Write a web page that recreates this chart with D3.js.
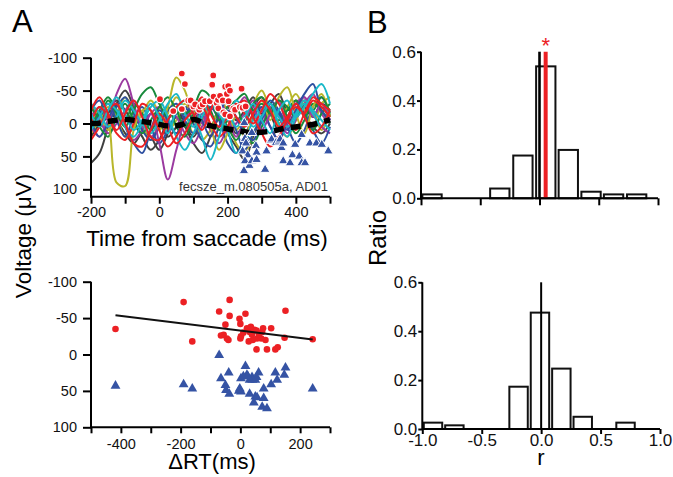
<!DOCTYPE html>
<html>
<head>
<meta charset="utf-8">
<script src="https://cdn.jsdelivr.net/npm/d3@7"></script>
<style>
  body { margin: 0; background: #fff; }
  svg { font-family: "Liberation Sans", Arial, sans-serif; }
</style>
</head>
<body>
<div class="figure"></div>
<script>
// ---- panel A (top): single trials, time axis in ms ----
const times = [-200,-175,-150,-125,-100,-75,-50,-25,0,25,50,75,100,125,150,175,200,225,250,275,300,325,350,375,400,425,450,475,500];

const traceColors = ["#2d4fa0","#188a3b","#ec2024","#1ab8c8","#9b3aa0","#b8b62a","#404040"];

const traceB1 = [-20,-35,-10,-30,5,30,45,10,-20,-5,15,-10,-30,-5,20,-15,-35,-10,15,25,-5,-30,-15,10,-20,-45,-60,-20,-5];
const traceB2 = [10,-15,-30,-5,20,-10,-25,5,30,10,-15,-25,0,25,35,5,-20,10,40,15,-10,-35,-20,5,30,10,-25,-40,-10];
const traceB3 = [-5,20,0,-25,-40,-15,10,25,5,-20,-30,-5,15,-10,-25,-5,30,45,20,-10,-25,5,25,-5,-30,-15,10,30,5];
const traceG1 = [-25,-10,-35,-15,5,-20,-45,-55,-30,-10,-20,-15,-25,-50,-40,-5,-25,-35,-45,-20,-30,-15,-35,-25,-10,-30,-20,-40,-15];
const traceG2 = [5,-20,-40,-20,-5,-30,-15,10,-10,-25,5,20,-5,-20,-35,-15,5,25,0,-30,-40,-15,-5,-20,-35,-10,10,-15,-30];
const traceG3 = [-15,5,20,-10,-30,-5,15,-5,-25,-40,-20,5,-15,-35,-20,10,-5,-25,10,30,5,-20,-35,-10,15,-5,-30,-20,0];
const traceR1 = [-20,-40,-15,10,-15,-35,-10,20,25,-5,-25,-35,-15,10,-20,-45,-30,-10,5,-15,-35,-20,5,-10,-30,-15,-35,-25,-10];
const traceR2 = [25,5,-20,-30,0,30,35,10,-15,5,30,15,-10,-25,0,20,5,-25,-35,-10,15,35,20,-5,-25,-10,15,5,-20];
const traceR3 = [0,-25,-10,15,25,0,-30,-20,10,35,20,-5,-20,-40,-15,5,-10,-30,-15,0,-20,-45,-30,-5,10,-15,-40,-30,-20];
const traceC1 = [-15,5,-20,-40,-15,10,-5,-30,-10,15,-20,-35,-15,20,55,20,-15,5,-10,-30,-5,15,-20,-35,-10,-25,-45,-60,-30];
const traceC2 = [10,-10,-30,-20,5,20,0,-25,-35,-10,20,40,15,-10,-30,-15,10,45,30,-5,-20,-30,-10,5,-15,-35,-20,-5,10];
const traceC3 = [-30,-15,5,-10,-35,-20,0,15,-5,-30,-45,-15,5,-20,-40,-25,-5,-35,-20,5,-10,-30,0,20,-10,-30,-15,5,-20];
const traceP1 = [-10,-25,-5,-45,-68,-30,5,-15,30,85,40,-5,-25,0,-20,-35,-10,20,-5,-25,10,-15,-35,5,-20,-40,-10,-30,-5];
const traceP2 = [5,20,-5,-20,0,25,10,-15,-25,0,15,-10,-30,-15,10,30,5,-20,-40,-15,0,-25,-10,15,-5,-30,-45,-15,0];
const traceP3 = [-25,-5,15,0,-20,-35,-10,20,5,-20,-10,15,30,5,-25,-10,15,0,-15,-35,-20,5,25,0,-30,-40,-15,5,15];
const traceO1 = [0,-25,-5,90,95,10,-20,-20,10,-25,-70,-50,-15,-35,5,40,15,-10,20,-15,-35,-5,-40,-55,-15,15,-25,-45,-10];
const traceO2 = [-30,-10,10,-15,-40,-20,5,25,0,-15,-40,-20,15,-5,-35,-45,-15,10,-10,-30,-50,-20,0,-25,-45,-20,5,-30,-40];
const traceO3 = [15,-5,-25,-10,20,5,-15,-35,-15,10,-5,-30,-10,25,10,-20,-5,30,45,15,-10,-25,5,20,-5,-35,-20,10,-15];
const traceK1 = [60,45,5,-30,-50,-25,10,20,40,15,-10,5,30,45,20,-10,-25,-5,-20,-40,-15,-30,-45,-20,-35,-25,-10,-30,-20];
const traceK2 = [-10,5,-15,-35,-20,0,20,40,25,-5,-20,0,20,-5,-25,-10,15,35,55,20,-10,-30,-15,0,-20,-35,-10,-25,-5];
const traceK3 = [20,0,-20,-5,15,30,10,-15,-5,20,5,-20,-35,-15,5,-20,-10,15,0,-25,-40,-15,10,-10,-30,-15,5,15,0];

// drawing order, with colour index
const traces = [
  [traceK1,6],[traceK2,6],[traceK3,6],[traceO2,5],[traceO3,5],[traceP2,4],[traceP3,4],
  [traceB2,0],[traceB3,0],[traceG2,1],[traceG3,1],[traceO1,5],[traceP1,4],[traceB1,0],
  [traceG1,1],[traceC2,3],[traceC3,3],[traceR2,2],[traceR3,2],[traceC1,3],[traceR1,2]
];

const meanT = [-200,-182,-150,-100,-50,-12,32,67,101,145,184,228,272,335,374,418,462,500];
const meanV = [0,0,-3,-6,-3,0,4,1.5,-6,3,6.6,11,14,11,6.6,4,0,-6];

// negative peaks (red dots) and positive peaks (blue triangles), [ms, uV]
const negPeaks = [[2,-37],[41,-19],[66,-76],[75,-60],[66,-22],[85,-35],[92,-35],[100,-26],[105,-29],[117,-21],[120,-26],[127,-29],[134,-34],[148,-34],[155,-59],[158,-73],[159,-41],[168,-31],[172,-36],[173,-23],[178,-42],[186,-35],[188,-17],[193,-56],[193,-14],[198,-45],[202,-57],[203,-34],[207,-11],[207,-50],[217,-23],[222,-21],[236,-25],[241,-53],[244,-24],[253,-26]];
const posPeaks = [[249,-1],[251,23],[254,30],[244,42],[259,48],[251,57],[264,64],[248,72],[271,57],[271,14],[283,34],[285,44],[285,55],[310,70],[314,42],[326,26],[329,24],[342,29],[351,27],[354,24],[358,37],[363,30],[363,57],[383,60],[390,48],[398,32],[410,50],[417,17],[417,60],[427,60],[441,30],[460,30],[476,32],[495,42]];

// ---- panel A (bottom): peak voltage vs dRT ----
const redRT = [-418,-190,-161,-71,-65,-56,-50,-45,-40,-36,-36,-3,0,2,0,17,22,28,31,39,47,54,56,54,73,76,84,89,103,117,125,148,151,242,10,35,62,70,42];
const redV  = [-35,-72,-18,-59,-26,-27,-41,-22,-20,-75,-53,-49,-42,-25,-22,-56,-36,-18,-31,-27,-34,-33,-22,-7,-31,-36,-20,-7,-36,-7,-10,-23,-60,-21,-30,-38,-28,-22,-20];
const blueRT = [-418,-190,-161,-71,-65,-39,-50,-48,-37,-2,2,17,2,22,31,39,50,61,54,31,50,45,56,78,73,89,103,123,117,147,151,78,242,10,40,-5,25];
const blueV  = [43,41,47,1,33,25,42,49,54,47,51,16,33,28,35,31,35,25,31,54,58,66,59,60,72,74,41,35,25,28,18,47,47,30,35,50,30];
const fitX = [-418, 242];
const fitIntercept = -32.85, fitSlope = 0.0506;

// ---- panel B: histograms of r ----
const topCenters = [-0.907,-0.716,-0.525,-0.335,-0.14,0.053,0.243,0.435,0.625,0.82];
const topRatio   = [0.016,0,0,0.04,0.175,0.54,0.198,0.027,0.016,0.016];
const topBinWidth = 0.163;
const topMeanR = 0.052;
const botCenters = [-0.91,-0.73,-0.55,-0.37,-0.19,-0.01,0.17,0.35,0.53,0.71];
const botRatio   = [0.026,0.015,0,0,0.173,0.476,0.247,0.05,0,0.026];
const botBinWidth = 0.155;

const width = 673, height = 477;
const svg = d3.select('.figure').append('svg')
  .attr('width', width).attr('height', height);

function styleAxis(g, fs) {
  g.attr('font-size', fs).attr('font-family', '"Liberation Sans", Arial, sans-serif');
  g.selectAll('line').attr('stroke', '#000').attr('stroke-width', 2);
  g.select('.domain').remove();
  g.selectAll('text').attr('fill', '#111');
}
const plain = d => String(d);

// ===== A top =====
const xA = d3.scaleLinear().domain([-200, 500]).range([91, 330]);
const yA = d3.scaleLinear().domain([-100, 100]).range([57.7, 189.3]);
const axisYA = 196.7;

const line = d3.line().x(d => xA(d[0])).y(d => yA(d[1])).curve(d3.curveCatmullRom.alpha(0.5));
svg.append('g').selectAll('path')
  .data(traces)
  .enter()
  .append('path')
  .attr('d', d => line(times.map((t, i) => [t, d[0][i]])))
  .attr('fill', 'none')
  .attr('stroke', d => traceColors[d[1]])
  .attr('stroke-width', 2);

svg.append('path')
  .attr('d', d3.line().x(d => xA(d[0])).y(d => yA(d[1])).curve(d3.curveCatmullRom)(meanT.map((t, i) => [t, meanV[i]])))
  .attr('fill', 'none').attr('stroke', '#000').attr('stroke-width', 5.5)
  .attr('stroke-dasharray', '10,7');

svg.append('g').selectAll('circle')
  .data(negPeaks).enter().append('circle')
  .attr('cx', d => xA(d[0])).attr('cy', d => yA(d[1])).attr('r', 3.5)
  .attr('fill', '#ec2024').attr('stroke', '#fff').attr('stroke-width', 1.3);

const tri = d3.symbol().type(d3.symbolTriangle).size(40);
svg.append('g').selectAll('path')
  .data(posPeaks).enter().append('path')
  .attr('d', tri)
  .attr('transform', d => `translate(${xA(d[0])},${yA(d[1])})`)
  .attr('fill', '#3553a4').attr('stroke', '#fff').attr('stroke-width', 1);

svg.append('text')
  .attr('x', 328).attr('y', 191)
  .attr('text-anchor', 'end').attr('font-size', 13).attr('fill', '#333')
  .text('fecsze_m.080505a, AD01');

svg.append('g').attr('transform', `translate(91,0)`)
  .call(d3.axisLeft(yA).tickValues([-100,-50,0,50,100]).tickFormat(plain).tickSize(8).tickPadding(6))
  .call(g => styleAxis(g, 14.5));
svg.append('g').attr('transform', `translate(0,${axisYA})`)
  .call(d3.axisBottom(xA).tickValues([-200,-100,0,100,200,300,400,500])
    .tickFormat(d => d % 200 === 0 ? String(d) : '').tickSize(7).tickPadding(3))
  .call(g => styleAxis(g, 14.5));
svg.append('path')
  .attr('d', `M91,${yA(-100)}V${axisYA}H${xA(500)}`)
  .attr('fill', 'none').attr('stroke', '#000').attr('stroke-width', 2);

svg.append('text').attr('x', 207).attr('y', 246)
  .attr('text-anchor', 'middle').attr('font-size', 22.5)
  .text('Time from saccade (ms)');

// ===== A bottom =====
const xS = d3.scaleLinear().domain([-500, 300]).range([91, 330]);
const yS = d3.scaleLinear().domain([-100, 100]).range([281.7, 427.3]);

svg.append('g').selectAll('path')
  .data(blueRT).enter().append('path')
  .attr('d', d3.symbol().type(d3.symbolTriangle).size(42))
  .attr('transform', (d, i) => `translate(${xS(d)},${yS(blueV[i])})`)
  .attr('fill', '#3553a4');

svg.append('g').selectAll('circle')
  .data(redRT).enter().append('circle')
  .attr('cx', d => xS(d)).attr('cy', (d, i) => yS(redV[i])).attr('r', 3.3)
  .attr('fill', '#ec2024');

svg.append('line')
  .attr('x1', xS(fitX[0])).attr('y1', yS(fitIntercept + fitSlope * fitX[0]))
  .attr('x2', xS(fitX[1])).attr('y2', yS(fitIntercept + fitSlope * fitX[1]))
  .attr('stroke', '#111').attr('stroke-width', 2);

svg.append('g').attr('transform', `translate(91,0)`)
  .call(d3.axisLeft(yS).tickValues([-100,-50,0,50,100]).tickFormat(plain).tickSize(8).tickPadding(6))
  .call(g => styleAxis(g, 14.5));
svg.append('g').attr('transform', `translate(0,${yS(100)})`)
  .call(d3.axisBottom(xS).tickValues([-500,-400,-300,-200,-100,0,100,200,300])
    .tickFormat(d => (d % 200 === 0 && d > -500) ? String(d) : '').tickSize(6).tickPadding(5))
  .call(g => styleAxis(g, 14.5));
svg.append('path')
  .attr('d', `M91,${yS(-100)}V${yS(100)}H${xS(300)}`)
  .attr('fill', 'none').attr('stroke', '#000').attr('stroke-width', 2);

svg.append('text').attr('x', 212).attr('y', 469)
  .attr('text-anchor', 'middle').attr('font-size', 22)
  .text('\u0394RT(ms)');

svg.append('text')
  .attr('transform', 'translate(31,236) rotate(-90)')
  .attr('text-anchor', 'middle').attr('font-size', 22.5)
  .text('Voltage (\u03bcV)');

// ===== B top =====
const xB = d3.scaleLinear().domain([-1, 1]).range([421, 658]);
const yB = d3.scaleLinear().domain([0, 0.6]).range([198.3, 51.7]);

svg.append('g').selectAll('rect')
  .data(topCenters.map((c, i) => [c, topRatio[i]]).filter(d => d[1] > 0))
  .enter().append('rect')
  .attr('x', d => xB(d[0] - topBinWidth / 2))
  .attr('y', d => yB(d[1]))
  .attr('width', d => xB(d[0] + topBinWidth / 2) - xB(d[0] - topBinWidth / 2))
  .attr('height', d => yB(0) - yB(d[1]))
  .attr('fill', '#fff').attr('stroke', '#111').attr('stroke-width', 2);

svg.append('line')
  .attr('x1', xB(0)).attr('x2', xB(0)).attr('y1', yB(0.6)).attr('y2', yB(0))
  .attr('stroke', '#000').attr('stroke-width', 2.6);
svg.append('line')
  .attr('x1', xB(topMeanR)).attr('x2', xB(topMeanR)).attr('y1', yB(0.6)).attr('y2', yB(0))
  .attr('stroke', '#ec2024').attr('stroke-width', 4);
svg.append('text')
  .attr('x', xB(topMeanR)).attr('y', 53)
  .attr('text-anchor', 'middle').attr('font-size', 22).attr('fill', '#ec2024')
  .text('*');

svg.append('g').attr('transform', `translate(421,0)`)
  .call(d3.axisLeft(yB).tickValues([0,0.2,0.4,0.6]).tickFormat(d3.format('.1f')).tickSize(4).tickPadding(1))
  .call(g => styleAxis(g, 17));
svg.append('g').attr('transform', `translate(0,${yB(0)})`)
  .call(d3.axisBottom(xB).tickValues([-1,-0.5,0,0.5,1]).tickFormat('').tickSize(7))
  .call(g => styleAxis(g, 17));
svg.append('path')
  .attr('d', `M421,${yB(0.6)}V${yB(0)}H${xB(1)}`)
  .attr('fill', 'none').attr('stroke', '#000').attr('stroke-width', 2);

// ===== B bottom =====
const xR = d3.scaleLinear().domain([-1, 1]).range([422.3, 660]);
const yR = d3.scaleLinear().domain([0, 0.6]).range([429, 282.3]);

svg.append('g').selectAll('rect')
  .data(botCenters.map((c, i) => [c, botRatio[i]]).filter(d => d[1] > 0))
  .enter().append('rect')
  .attr('x', d => xR(d[0] - botBinWidth / 2))
  .attr('y', d => yR(d[1]))
  .attr('width', d => xR(d[0] + botBinWidth / 2) - xR(d[0] - botBinWidth / 2))
  .attr('height', d => yR(0) - yR(d[1]))
  .attr('fill', '#fff').attr('stroke', '#111').attr('stroke-width', 2);

svg.append('line')
  .attr('x1', xR(0)).attr('x2', xR(0)).attr('y1', yR(0.6)).attr('y2', yR(0))
  .attr('stroke', '#000').attr('stroke-width', 2);

svg.append('g').attr('transform', `translate(422.3,0)`)
  .call(d3.axisLeft(yR).tickValues([0,0.2,0.4,0.6]).tickFormat(d3.format('.1f')).tickSize(4).tickPadding(1))
  .call(g => styleAxis(g, 17));
svg.append('g').attr('transform', `translate(0,${yR(0)})`)
  .call(d3.axisBottom(xR).tickValues([-1,-0.5,0,0.5,1]).tickFormat(d => d3.format('.1f')(d).replace('\u2212', '-')).tickSize(5).tickPadding(0))
  .call(g => styleAxis(g, 17));
svg.append('path')
  .attr('d', `M422.3,${yR(0.6)}V${yR(0)}H${xR(1)}`)
  .attr('fill', 'none').attr('stroke', '#000').attr('stroke-width', 2);

svg.append('text').attr('x', 541).attr('y', 465)
  .attr('text-anchor', 'middle').attr('font-size', 22)
  .text('r');

svg.append('text')
  .attr('transform', 'translate(386,238) rotate(-90)')
  .attr('text-anchor', 'middle').attr('font-size', 24)
  .text('Ratio');

// panel letters
svg.append('text').attr('x', 12).attr('y', 32).attr('font-size', 31).text('A');
svg.append('text').attr('x', 367).attr('y', 33).attr('font-size', 31).text('B');
</script>
</body>
</html>
